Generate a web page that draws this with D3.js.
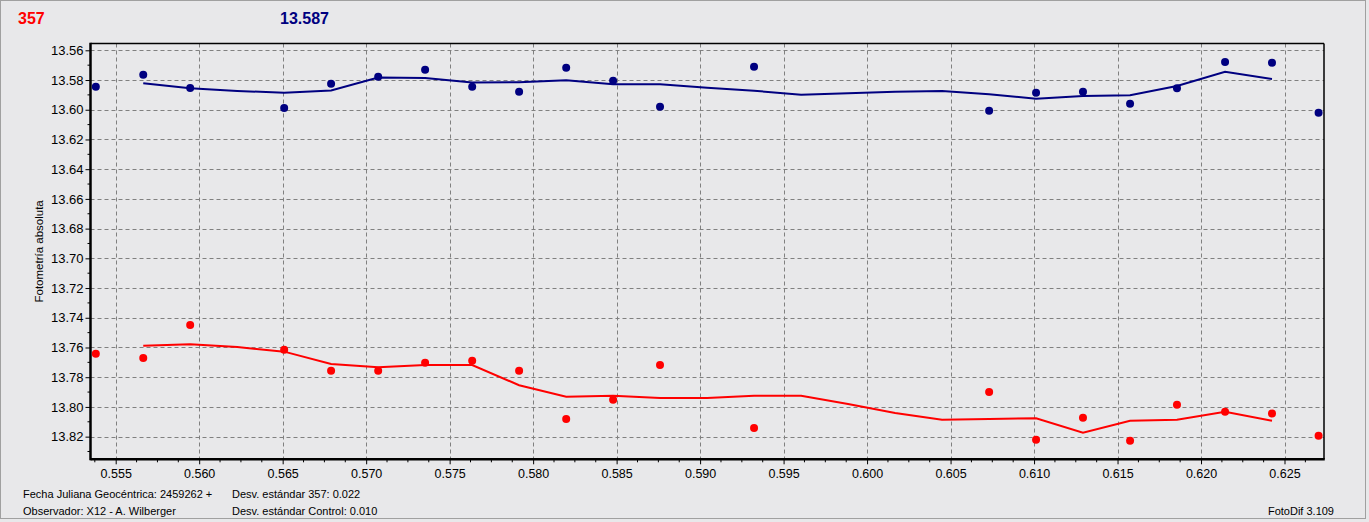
<!DOCTYPE html>
<html>
<head>
<meta charset="utf-8">
<script src="https://cdn.jsdelivr.net/npm/d3@7"></script>
<style>
  html, body { margin: 0; padding: 0; background: #e8e8ea; }
  svg { display: block; }
  text { font-family: "Liberation Sans", Arial, sans-serif; }
</style>
</head>
<body>
<svg id="chart" width="1369" height="522"></svg>
<script>
// ---- Data ----
const timeX = [0.55381, 0.55665, 0.55946, 0.56509, 0.56790, 0.57072, 0.57353, 0.57635, 0.57916,
  0.58198, 0.58479, 0.58760, 0.59323, 0.60731, 0.61012, 0.61293, 0.61575, 0.61856, 0.62144, 0.62425, 0.62704];
const controlMag = [13.5845, 13.5764, 13.5854, 13.5988, 13.5825, 13.5778, 13.5731, 13.5845, 13.5879,
  13.5717, 13.5805, 13.5980, 13.5710, 13.6006, 13.5885, 13.5879, 13.5959, 13.5856, 13.5679, 13.5683, 13.6020];
const targetMag = [13.7642, 13.7671, 13.7449, 13.7615, 13.7756, 13.7756, 13.7702, 13.7689, 13.7756,
  13.8081, 13.7951, 13.7718, 13.8142, 13.7900, 13.8221, 13.8073, 13.8227, 13.7985, 13.8032, 13.8045, 13.8194];

const trendX = [0.55665, 0.55946, 0.56228, 0.56509, 0.56790, 0.57072, 0.57353, 0.57635, 0.57916,
  0.58198, 0.58479, 0.58760, 0.59042, 0.59323, 0.59605, 0.59886, 0.60168, 0.60449, 0.60731,
  0.61012, 0.61293, 0.61575, 0.61856, 0.62144, 0.62425];
const controlTrend = [13.5822, 13.5856, 13.5874, 13.5885, 13.5871, 13.5783, 13.5786, 13.5816, 13.5815,
  13.5802, 13.5829, 13.5829, 13.5852, 13.5872, 13.5899, 13.5889, 13.5879, 13.5874, 13.5896,
  13.5926, 13.5908, 13.5903, 13.5840, 13.5744, 13.5793];
const targetTrend = [13.7588, 13.7578, 13.7597, 13.7628, 13.7711, 13.7733, 13.7718, 13.7718, 13.7854,
  13.7931, 13.7924, 13.7940, 13.7940, 13.7924, 13.7924, 13.7980, 13.8041, 13.8086, 13.8081,
  13.8076, 13.8173, 13.8093, 13.8086, 13.8032, 13.8093];

const yTicks = [13.56, 13.58, 13.60, 13.62, 13.64, 13.66, 13.68, 13.70, 13.72, 13.74, 13.76, 13.78, 13.80, 13.82];
const xTicks = [0.555, 0.560, 0.565, 0.570, 0.575, 0.580, 0.585, 0.590, 0.595, 0.600, 0.605, 0.610, 0.615, 0.620, 0.625];

const headerTarget = "357";
const headerControl = "13.587";
const yTitle = "Fotometría absoluta";
const footerLeft = ["Fecha Juliana Geocéntrica: 2459262 +", "Observador: X12 - A. Wilberger"];
const footerMid = ["Desv. estándar 357: 0.022", "Desv. estándar Control: 0.010"];
const footerRight = "FotoDif 3.109";

// ---- Layout ----
const L = 90.5, R = 1324, T = 43.5, B = 459.3;
const svg = d3.select("#chart");
const x = d3.scaleLinear().domain([0.553491, 0.627365]).range([L, R]);
const y = d3.scaleLinear().domain([13.55542, 13.83524]).range([T, B]);

// outer border
svg.append("rect").attr("x", 0.5).attr("y", 0.5).attr("width", 1365).attr("height", 518)
  .attr("fill", "#e8e8ea").attr("stroke", "#a0a0a0");

// grid
const grid = svg.append("g").attr("stroke", "#808080").attr("stroke-width", 1).attr("stroke-dasharray", "4,3");
grid.selectAll("line.h").data(yTicks).join("line")
  .attr("x1", L).attr("x2", R)
  .attr("y1", d => Math.round(y(d)) + 0.5).attr("y2", d => Math.round(y(d)) + 0.5);
grid.selectAll("line.v").data(xTicks).join("line")
  .attr("y1", T).attr("y2", B)
  .attr("x1", d => Math.round(x(d)) + 0.5).attr("x2", d => Math.round(x(d)) + 0.5);

// axes
const yAxis = d3.axisLeft(y).tickValues(yTicks).tickFormat(d3.format(".2f")).tickSize(5).tickPadding(2);
const gy = svg.append("g").attr("transform", `translate(${L},0)`).call(yAxis);
gy.select(".domain").remove();
gy.selectAll("text").attr("font-size", 13).attr("fill", "#000").attr("font-family", "Liberation Sans, Arial, sans-serif");
gy.selectAll("line").attr("stroke", "#000");

const yMinor = d3.range(13.57, 13.835, 0.02);
svg.append("g").selectAll("line").data(yMinor).join("line")
  .attr("x1", L - 3).attr("x2", L).attr("y1", d => y(d)).attr("y2", d => y(d)).attr("stroke", "#000");

const xAxis = d3.axisBottom(x).tickValues(xTicks).tickFormat(d3.format(".3f")).tickSize(5).tickPadding(5);
const gx = svg.append("g").attr("transform", `translate(0,${B})`).call(xAxis);
gx.select(".domain").remove();
gx.selectAll("text").attr("font-size", 12.5).attr("fill", "#000").attr("font-family", "Liberation Sans, Arial, sans-serif");
gx.selectAll("line").attr("stroke", "#000");

const xMinor = d3.range(0.55375, 0.6274, 0.00125).filter(v => Math.abs((v / 0.005) - Math.round(v / 0.005)) > 0.01);
svg.append("g").selectAll("line").data(xMinor).join("line")
  .attr("x1", d => x(d)).attr("x2", d => x(d)).attr("y1", B).attr("y2", B + 3).attr("stroke", "#000");

// frame
svg.append("line").attr("x1", L).attr("x2", R).attr("y1", T).attr("y2", T).attr("stroke", "#000").attr("stroke-width", 1.5);
svg.append("line").attr("x1", R).attr("x2", R).attr("y1", T).attr("y2", B).attr("stroke", "#000").attr("stroke-width", 1.5);
svg.append("line").attr("x1", L).attr("x2", R + 0.75).attr("y1", B).attr("y2", B).attr("stroke", "#000").attr("stroke-width", 2.5);
svg.append("line").attr("x1", L).attr("x2", L).attr("y1", T - 0.75).attr("y2", B + 1).attr("stroke", "#000").attr("stroke-width", 2.5);

// trend lines
const line = d3.line().x(d => x(d[0])).y(d => y(d[1]));
svg.append("path").datum(trendX.map((t, i) => [t, controlTrend[i]]))
  .attr("d", line).attr("fill", "none").attr("stroke", "#000080").attr("stroke-width", 2);
svg.append("path").datum(trendX.map((t, i) => [t, targetTrend[i]]))
  .attr("d", line).attr("fill", "none").attr("stroke", "#ff0000").attr("stroke-width", 2);

// points
svg.append("g").selectAll("circle").data(timeX.map((t, i) => [t, controlMag[i]])).join("circle")
  .attr("cx", d => x(d[0])).attr("cy", d => y(d[1])).attr("r", 4).attr("fill", "#000080");
svg.append("g").selectAll("circle").data(timeX.map((t, i) => [t, targetMag[i]])).join("circle")
  .attr("cx", d => x(d[0])).attr("cy", d => y(d[1])).attr("r", 4).attr("fill", "#ff0000");

// header
svg.append("text").attr("x", 18).attr("y", 24).attr("font-size", 16).attr("font-weight", "bold")
  .attr("fill", "#ff0000").text(headerTarget);
svg.append("text").attr("x", 280).attr("y", 24).attr("font-size", 16).attr("font-weight", "bold")
  .attr("fill", "#000080").text(headerControl);

// y title
svg.append("text").attr("transform", `translate(43,${(T + B) / 2}) rotate(-90)`)
  .attr("text-anchor", "middle").attr("font-size", 11.5).attr("fill", "#000").text(yTitle);

// footer
svg.append("g").selectAll("text").data(footerLeft).join("text")
  .attr("x", 23).attr("y", (d, i) => 498 + i * 17).attr("font-size", 11).attr("fill", "#000").text(d => d);
svg.append("g").selectAll("text").data(footerMid).join("text")
  .attr("x", 232).attr("y", (d, i) => 498 + i * 17).attr("font-size", 11).attr("fill", "#000").text(d => d);
svg.append("text").attr("x", 1334).attr("y", 515).attr("text-anchor", "end")
  .attr("font-size", 11).attr("fill", "#000").text(footerRight);
</script>
</body>
</html>
